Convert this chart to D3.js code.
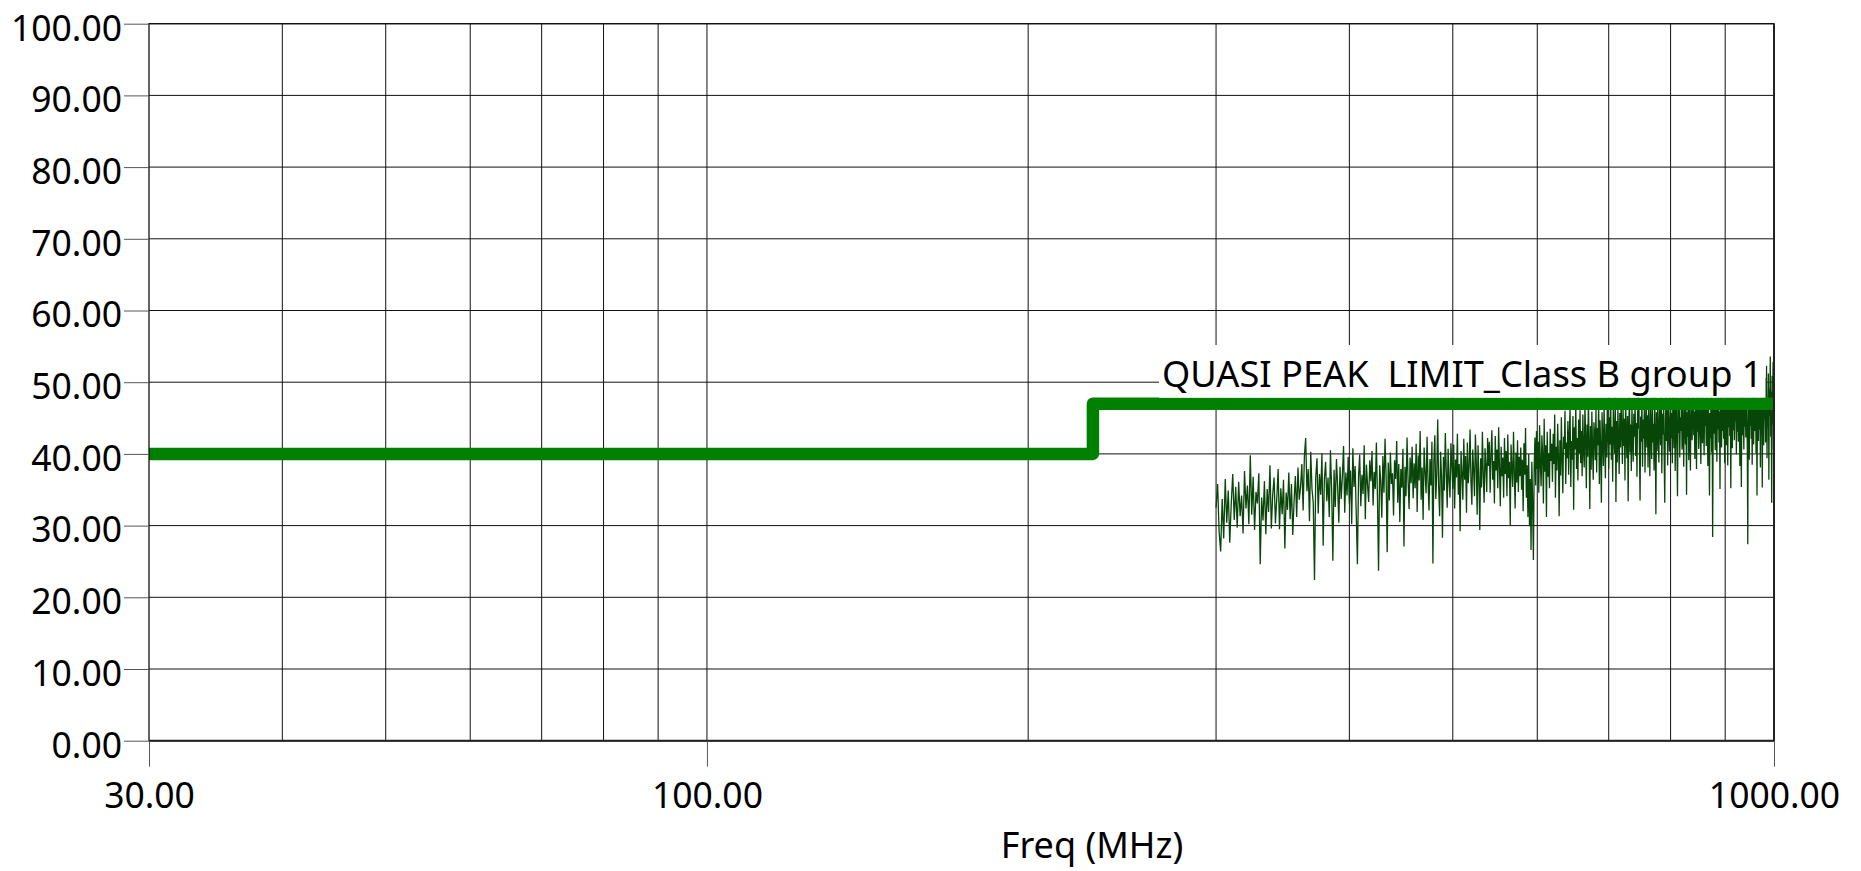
<!DOCTYPE html>
<html>
<head>
<meta charset="utf-8">
<script src="https://cdn.jsdelivr.net/npm/d3@7"></script>
<style>
  body { margin: 0; background: #fff; }
  svg { display: block; font-family: "Noto Sans", "Open Sans", sans-serif; }
</style>
</head>
<body>
<div id="chart"></div>
<script>
const WIDTH = 1861;
const HEIGHT = 871;

const PLOT_LEFT = 149;
const PLOT_RIGHT = 1774;
const PLOT_TOP = 23.7;
const PLOT_BOTTOM = 740.7;

// axes
const Y_TICKS = [0, 10, 20, 30, 40, 50, 60, 70, 80, 90, 100];
const X_TICKS = [30, 100, 1000];
const X_GRID = [40, 50, 60, 70, 80, 90, 100, 200, 300, 400, 500, 600, 700, 800, 900];
const X_TITLE = 'Freq (MHz)';

// limit line
const LIMIT_FREQ = [30, 230, 230, 1000];
const LIMIT_LEVEL = [40, 40, 47, 47];
const LIMIT_LABEL = 'QUASI PEAK  LIMIT_Class B group 1';

// measured trace, 1 MHz sweep from 300 to 1000 MHz
const SWEEP_START = 300;
const SWEEP_STOP = 1000;
const NOISE_LEVEL = [
  32.5, 35.8, 29.1, 26.4, 33.7, 28.2, 36.5, 30.4, 34.9, 27.6, 33.1, 37.2, 30.8, 35.4, 29.7, 36.1, 31.3, 34.2, 28.9, 37.6,
  32.4, 35.6, 30.2, 39.8, 31.5, 36.8, 29.4, 34.7, 33.1, 37.3, 24.6, 33.9, 30.7, 36.2, 28.8, 35.1, 31.9, 38.4, 29.6, 34.3,
  36.7, 30.3, 33.8, 37.9, 29.5, 35.2, 31.6, 36.4, 26.8, 34.6, 32.2, 37.4, 30.9, 35.8, 28.7, 33.4, 36.9, 31.2, 38.1, 33.6,
  35.4, 38.6, 32.1, 39.7, 42.2, 34.8, 37.9, 30.6, 40.3, 35.1, 33.2, 22.4, 36.8, 39.4, 31.7, 37.2, 34.3, 40.1, 27.2, 36.5,
  38.9, 33.4, 36.7, 31.2, 40.5, 34.9, 25.1, 37.8, 32.6, 39.3, 35.5, 30.4, 38.2, 33.7, 36.9, 41.1, 31.8, 37.4, 34.2, 39.6,
  33.1, 37.7, 30.2, 40.8, 35.4, 38.3, 31.5, 24.6, 36.8, 39.9, 32.7, 37.1, 34.4, 41.2, 30.9, 38.5, 35.7, 33.3, 39.1, 36.2,
  40.4, 32.8, 37.5, 35.1, 41.6, 33.9, 23.7, 38.4, 36.2, 31.1, 39.7, 34.6, 42.1, 36.9, 26.3, 38.8, 33.5, 40.2, 35.8, 37.3,
  31.4, 39.1, 36.5, 41.8, 33.2, 38.6, 30.5, 37.9, 35.3, 40.7, 27.1, 38.2, 34.1, 42.3, 36.4, 32.3, 39.5, 35.9, 41.0, 33.8,
  38.7, 35.2, 41.4, 31.9, 39.8, 36.3, 43.2, 33.6, 38.1, 30.8, 40.9, 37.4, 34.5, 42.4, 36.1, 32.1, 39.3, 35.6, 41.7, 24.7,
  38.9, 42.6, 33.7, 37.2, 44.8, 35.4, 31.3, 40.3, 36.8, 28.3, 39.6, 34.9, 42.9, 37.7, 32.5, 40.7, 36.2, 33.9, 41.5, 38.4,
  35.1, 41.3, 32.4, 39.2, 36.7, 42.8, 34.3, 38.6, 29.2, 40.4, 37.3, 33.6, 42.1, 36.4, 39.7, 31.8, 41.6, 35.9, 38.3, 43.4,
  36.2, 32.9, 40.6, 37.8, 34.1, 42.7, 38.9, 31.5, 41.2, 36.6, 29.4, 39.4, 35.3, 43.1, 37.1, 33.2, 40.8, 38.4, 34.7, 42.2,
  38.3, 41.7, 34.6, 39.9, 43.3, 36.4, 39.0, 33.1, 42.5, 37.7, 40.6, 35.2, 43.7, 38.2, 32.7, 41.0, 36.9, 39.5, 33.9, 42.2,
  37.2, 40.4, 34.1, 42.7, 36.6, 38.9, 30.1, 41.3, 38.0, 35.4, 43.1, 37.5, 32.4, 40.2, 36.0, 41.9, 34.7, 39.6, 36.9, 40.9,
  35.0, 39.2, 32.0, 41.5, 37.1, 43.6, 33.9, 38.4, 31.2, 40.0, 29.9, 36.5, 26.6, 38.9, 33.2, 25.2, 38.1, 42.3, 35.6, 43.2,
  37.9, 41.7, 34.6, 44.0, 38.4, 35.5, 42.6, 39.8, 33.1, 44.9, 37.5, 41.2, 31.2, 43.1, 36.8, 40.1, 35.2, 43.5, 39.0, 41.4,
  36.1, 42.8, 38.6, 45.5, 33.9, 41.0, 37.7, 44.2, 39.5, 31.3, 41.9, 37.0, 45.1, 39.2, 34.5, 42.4, 40.7, 46.0, 35.8, 41.6,
  39.4, 44.6, 37.1, 42.9, 46.4, 35.4, 41.8, 39.2, 45.3, 32.2, 43.7, 40.6, 47.1, 37.9, 42.2, 36.3, 44.8, 40.1, 46.1, 38.7,
  43.2, 36.9, 45.5, 40.3, 38.1, 46.8, 42.4, 35.2, 44.1, 39.6, 47.3, 41.5, 32.3, 43.9, 37.8, 45.9, 40.7, 36.4, 44.4, 42.6,
  39.1, 46.3, 37.4, 43.6, 41.2, 47.2, 35.8, 44.7, 40.4, 33.2, 45.8, 42.1, 38.3, 46.9, 41.7, 36.6, 44.2, 39.5, 47.4, 43.3,
  37.9, 45.1, 41.3, 47.6, 39.2, 43.8, 36.1, 46.4, 42.7, 40.1, 48.1, 33.3, 44.6, 38.8, 46.2, 42.2, 37.2, 45.7, 40.9, 47.3,
  43.1, 38.6, 46.6, 41.1, 44.9, 36.3, 47.8, 42.9, 39.4, 45.3, 33.4, 43.7, 48.2, 40.2, 44.1, 37.6, 46.8, 41.9, 38.9, 45.6,
  42.4, 47.1, 39.7, 44.3, 36.8, 46.1, 43.5, 48.4, 40.6, 33.5, 45.2, 41.7, 47.7, 38.2, 44.8, 42.1, 46.5, 37.4, 43.9, 48.1,
  40.9, 45.4, 38.1, 47.3, 42.8, 36.9, 46.7, 43.4, 39.3, 48.3, 41.6, 44.2, 37.7, 47.9, 42.3, 31.6, 45.8, 40.4, 46.3, 43.1,
  38.8, 47.2, 44.1, 41.2, 48.6, 37.3, 45.6, 42.7, 46.8, 39.6, 33.2, 44.9, 48.2, 41.8, 46.1, 38.4, 47.5, 43.6, 40.3, 45.3,
  47.4, 42.2, 45.7, 38.7, 48.4, 44.3, 40.8, 46.9, 37.6, 43.8, 48.9, 41.4, 34.1, 46.2, 42.9, 47.7, 39.5, 45.1, 43.2, 48.1,
  40.6, 46.4, 43.7, 38.2, 48.7, 44.5, 41.3, 47.1, 34.3, 45.8, 42.4, 48.3, 39.1, 46.6, 43.3, 37.7, 47.9, 44.8, 41.9, 46.1,
  48.5, 42.6, 45.9, 39.3, 47.6, 44.2, 37.9, 48.8, 43.1, 46.7, 40.7, 45.4, 48.2, 42.3, 38.6, 47.3, 44.6, 41.5, 48.6, 45.2,
  39.8, 47.4, 43.9, 46.3, 41.1, 48.9, 44.4, 38.3, 47.2, 43.6, 34.2, 45.7, 42.2, 48.4, 40.2, 46.8, 28.4, 44.1, 47.7, 42.8,
  46.2, 40.5, 48.8, 44.7, 38.9, 47.1, 43.4, 49.2, 41.6, 45.9, 35.1, 48.1, 44.3, 40.9, 47.6, 43.2, 49.1, 42.1, 46.4, 38.7,
  47.8, 44.1, 41.2, 48.9, 45.3, 38.4, 47.4, 43.7, 49.3, 42.5, 46.9, 35.2, 48.2, 44.9, 40.8, 47.7, 43.3, 49.6, 41.9, 46.2,
  44.6, 48.7, 39.9, 46.8, 43.1, 49.4, 41.7, 47.3, 45.2, 38.3, 48.5, 44.4, 35.4, 47.9, 42.6, 49.1, 45.7, 40.6, 48.2, 43.8,
  47.1, 42.3, 49.7, 44.8, 41.4, 27.4, 48.3, 45.6, 39.2, 47.5, 43.9, 50.1, 42.1, 46.9, 38.5, 48.6, 44.2, 41.3, 49.2, 45.4,
  43.2, 48.4, 40.1, 46.6, 34.2, 49.3, 44.7, 41.8, 47.8, 43.4, 50.2, 38.1, 46.3, 42.7, 48.9, 35.3, 45.9, 49.6, 41.2, 47.2,
  44.9, 50.6, 41.6, 48.1, 52.3, 39.4, 47.4, 43.7, 51.2, 36.4, 49.1, 45.3, 53.6, 42.4, 48.7, 33.2, 50.9, 44.1, 52.8, 40.7,
  46.3
];

const svg = d3.select('#chart').append('svg')
    .attr('width', WIDTH)
    .attr('height', HEIGHT);

svg.append('rect')
    .attr('width', WIDTH)
    .attr('height', HEIGHT)
    .attr('fill', '#fff');

const xScale = d3.scaleLog().domain([30, 1000]).range([PLOT_LEFT, PLOT_RIGHT]);
const yScale = d3.scaleLinear().domain([0, 100]).range([PLOT_BOTTOM, PLOT_TOP]);
const fmt = d3.format('.2f');

// grid
const grid = svg.append('g').attr('stroke', '#111').attr('stroke-width', 1);
grid.selectAll('line.h')
    .data(Y_TICKS)
    .join('line')
    .attr('class', 'h')
    .attr('x1', PLOT_LEFT).attr('x2', PLOT_RIGHT)
    .attr('y1', d => yScale(d)).attr('y2', d => yScale(d));
grid.selectAll('line.v')
    .data(X_GRID)
    .join('line')
    .attr('class', 'v')
    .attr('x1', d => xScale(d)).attr('x2', d => xScale(d))
    .attr('y1', PLOT_TOP).attr('y2', PLOT_BOTTOM);

// measured trace
const step = (SWEEP_STOP - SWEEP_START) / (NOISE_LEVEL.length - 1);
const noise = NOISE_LEVEL.map((v, i) => [SWEEP_START + i * step, v]);
svg.append('path')
    .datum(noise)
    .attr('fill', 'none')
    .attr('stroke', '#084508')
    .attr('stroke-width', 1.3)
    .attr('d', d3.line().x(d => xScale(d[0])).y(d => yScale(d[1])));

// limit line
const limit = LIMIT_FREQ.map((f, i) => [f, LIMIT_LEVEL[i]]);
svg.append('path')
    .datum(limit)
    .attr('fill', 'none')
    .attr('stroke', '#008000')
    .attr('stroke-width', 12.5)
    .attr('stroke-linejoin', 'round')
    .attr('d', d3.line().x(d => xScale(d[0])).y(d => yScale(d[1])));

// limit label with white box
const labelG = svg.append('g');
const labelBox = labelG.append('rect').attr('fill', '#fff');
const label = labelG.append('text')
    .attr('x', 1162)
    .attr('y', 386.7)
    .style('font-size', '36.2px')
    .style('white-space', 'pre')
    .attr('fill', '#000')
    .text(LIMIT_LABEL);
const bb = label.node().getBBox();
labelBox
    .attr('x', bb.x - 3)
    .attr('y', 345)
    .attr('width', bb.width + 6)
    .attr('height', yScale(LIMIT_LEVEL[3]) - 6 - 345);

// frame
svg.append('rect')
    .attr('x', PLOT_LEFT).attr('y', PLOT_TOP)
    .attr('width', PLOT_RIGHT - PLOT_LEFT)
    .attr('height', PLOT_BOTTOM - PLOT_TOP)
    .attr('fill', 'none')
    .attr('stroke', '#111')
    .attr('stroke-width', 1.3);
svg.append('line')
    .attr('x1', PLOT_LEFT).attr('x2', PLOT_RIGHT + 1)
    .attr('y1', PLOT_BOTTOM).attr('y2', PLOT_BOTTOM)
    .attr('stroke', '#222').attr('stroke-width', 2);
svg.append('line')
    .attr('x1', PLOT_RIGHT).attr('x2', PLOT_RIGHT)
    .attr('y1', PLOT_TOP).attr('y2', PLOT_BOTTOM)
    .attr('stroke', '#222').attr('stroke-width', 2);

// Y AXIS
const yAxis = svg.append('g')
    .attr('transform', 'translate(' + PLOT_LEFT + ',0)')
    .call(d3.axisLeft(yScale).tickValues(Y_TICKS).tickSize(25).tickPadding(2).tickFormat(fmt));
yAxis.select('.domain').remove();
yAxis.selectAll('line').attr('stroke', '#555');
yAxis.selectAll('text')
    .attr('dy', '0.46em')
    .attr('fill', '#000')
    .style('font-size', '35.5px')
    .style('font-family', '"Noto Sans", "Open Sans", sans-serif');

// X AXIS
const xAxis = svg.append('g')
    .attr('transform', 'translate(0,' + PLOT_BOTTOM + ')')
    .call(d3.axisBottom(xScale).tickValues(X_TICKS).tickSize(26).tickPadding(16).tickFormat(fmt));
xAxis.select('.domain').remove();
xAxis.selectAll('line').attr('stroke', '#555');
xAxis.selectAll('text')
    .attr('fill', '#000')
    .style('font-size', '35.5px')
    .style('font-family', '"Noto Sans", "Open Sans", sans-serif');

// title
svg.append('text')
    .attr('x', 1092)
    .attr('y', 858)
    .attr('text-anchor', 'middle')
    .attr('fill', '#000')
    .style('font-size', '36px')
    .text(X_TITLE);
</script>
</body>
</html>
